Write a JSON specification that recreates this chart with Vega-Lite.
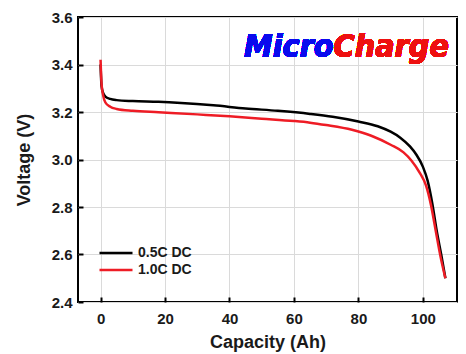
{
  "$schema": "https://vega.github.io/schema/vega-lite/v6.json",
  "width": 379,
  "height": 285,
  "autosize": {"type": "none"},
  "padding": {"left": 78, "top": 17, "right": 9, "bottom": 52},
  "background": "white",
  "config": {
    "view": {"stroke": "black", "strokeWidth": 2},
    "font": "Liberation Sans"
  },
  "data": {
    "values": [
      {"cap": 0, "v": 3.40, "series": "0.5C DC"},
      {"cap": 0.3, "v": 3.31, "series": "0.5C DC"},
      {"cap": 0.8, "v": 3.28, "series": "0.5C DC"},
      {"cap": 1.5, "v": 3.265, "series": "0.5C DC"},
      {"cap": 3, "v": 3.255, "series": "0.5C DC"},
      {"cap": 5, "v": 3.25, "series": "0.5C DC"},
      {"cap": 10, "v": 3.246, "series": "0.5C DC"},
      {"cap": 18, "v": 3.243, "series": "0.5C DC"},
      {"cap": 25, "v": 3.238, "series": "0.5C DC"},
      {"cap": 35, "v": 3.228, "series": "0.5C DC"},
      {"cap": 45, "v": 3.215, "series": "0.5C DC"},
      {"cap": 55, "v": 3.205, "series": "0.5C DC"},
      {"cap": 65, "v": 3.192, "series": "0.5C DC"},
      {"cap": 72, "v": 3.18, "series": "0.5C DC"},
      {"cap": 80, "v": 3.16, "series": "0.5C DC"},
      {"cap": 86, "v": 3.14, "series": "0.5C DC"},
      {"cap": 90, "v": 3.117, "series": "0.5C DC"},
      {"cap": 93, "v": 3.092, "series": "0.5C DC"},
      {"cap": 96, "v": 3.055, "series": "0.5C DC"},
      {"cap": 98, "v": 3.02, "series": "0.5C DC"},
      {"cap": 100, "v": 2.97, "series": "0.5C DC"},
      {"cap": 101.5, "v": 2.91, "series": "0.5C DC"},
      {"cap": 103, "v": 2.81, "series": "0.5C DC"},
      {"cap": 104.3, "v": 2.70, "series": "0.5C DC"},
      {"cap": 105.7, "v": 2.60, "series": "0.5C DC"},
      {"cap": 107, "v": 2.50, "series": "0.5C DC"},
      {"cap": 0, "v": 3.42, "series": "1.0C DC"},
      {"cap": 0.3, "v": 3.32, "series": "1.0C DC"},
      {"cap": 0.8, "v": 3.27, "series": "1.0C DC"},
      {"cap": 1.5, "v": 3.24, "series": "1.0C DC"},
      {"cap": 3, "v": 3.222, "series": "1.0C DC"},
      {"cap": 5, "v": 3.213, "series": "1.0C DC"},
      {"cap": 10, "v": 3.205, "series": "1.0C DC"},
      {"cap": 18, "v": 3.199, "series": "1.0C DC"},
      {"cap": 30, "v": 3.19, "series": "1.0C DC"},
      {"cap": 40, "v": 3.182, "series": "1.0C DC"},
      {"cap": 50, "v": 3.172, "series": "1.0C DC"},
      {"cap": 60, "v": 3.162, "series": "1.0C DC"},
      {"cap": 65, "v": 3.155, "series": "1.0C DC"},
      {"cap": 70, "v": 3.145, "series": "1.0C DC"},
      {"cap": 78, "v": 3.125, "series": "1.0C DC"},
      {"cap": 84, "v": 3.10, "series": "1.0C DC"},
      {"cap": 90, "v": 3.062, "series": "1.0C DC"},
      {"cap": 94, "v": 3.03, "series": "1.0C DC"},
      {"cap": 96.5, "v": 2.995, "series": "1.0C DC"},
      {"cap": 99, "v": 2.945, "series": "1.0C DC"},
      {"cap": 101, "v": 2.89, "series": "1.0C DC"},
      {"cap": 102.5, "v": 2.81, "series": "1.0C DC"},
      {"cap": 104, "v": 2.70, "series": "1.0C DC"},
      {"cap": 105.5, "v": 2.59, "series": "1.0C DC"},
      {"cap": 107, "v": 2.50, "series": "1.0C DC"}
    ]
  },
  "layer": [
    {
      "mark": {"type": "line", "strokeWidth": 2.5, "interpolate": "monotone"},
      "encoding": {
        "x": {
          "field": "cap", "type": "quantitative",
          "scale": {"domain": [-7, 110.6], "nice": false, "zero": false},
          "axis": {
            "title": "Capacity (Ah)",
            "values": [0, 10, 20, 30, 40, 50, 60, 70, 80, 90, 100, 110],
            "labelExpr": "datum.value % 20 == 0 ? datum.label : ''",
            "domain": false,
            "grid": true, "gridColor": "#dadada", "gridWidth": 1,
            "tickColor": "black", "tickWidth": 2,
            "tickSize": {"condition": {"test": "datum.value % 20 == 0", "value": -5}, "value": -3},
            "labelFont": "Liberation Sans", "labelFontWeight": "bold", "labelFontSize": 15, "labelColor": "#1a1a1a",
            "labelPadding": 14,
            "titleFont": "Liberation Sans", "titleFontWeight": "bold", "titleFontSize": 18, "titleColor": "#1a1a1a",
            "titlePadding": 7
          }
        },
        "y": {
          "field": "v", "type": "quantitative",
          "scale": {"domain": [2.4, 3.6], "nice": false, "zero": false},
          "axis": {
            "title": "Voltage (V)",
            "values": [2.4, 2.5, 2.6, 2.7, 2.8, 2.9, 3.0, 3.1, 3.2, 3.3, 3.4, 3.5, 3.6],
            "labelExpr": "round(datum.value * 10) % 2 == 0 ? format(datum.value, '.1f') : ''",
            "domain": false,
            "grid": true, "gridColor": "#dadada", "gridWidth": 1,
            "tickColor": "black", "tickWidth": 2,
            "tickSize": {"condition": {"test": "round(datum.value * 10) % 2 == 0", "value": -5}, "value": -3},
            "labelFont": "Liberation Sans", "labelFontWeight": "bold", "labelFontSize": 15, "labelColor": "#1a1a1a",
            "labelPadding": 11,
            "titleFont": "Liberation Sans", "titleFontWeight": "bold", "titleFontSize": 18, "titleColor": "#1a1a1a",
            "titlePadding": 18
          }
        },
        "color": {
          "field": "series", "type": "nominal",
          "scale": {"domain": ["0.5C DC", "1.0C DC"], "range": ["#000000", "#ee1c25"]},
          "legend": {
            "title": null,
            "orient": "none",
            "legendX": 31,
            "legendY": 229,
            "symbolType": "M-3,0H3",
            "symbolSize": 121,
            "symbolStrokeWidth": 2.5,
            "labelFont": "Liberation Sans", "labelFontWeight": "bold", "labelFontSize": 14, "labelColor": "#1a1a1a",
            "labelOffset": 15,
            "rowPadding": 3
          }
        }
      }
    },
    {
      "mark": {"type": "text", "text": "Micro", "align": "right", "baseline": "alphabetic", "font": "DejaVu Sans Condensed", "fontWeight": "bold", "fontStyle": "italic", "fontSize": 32, "color": "#0a0aee"},
      "encoding": {"x": {"datum": 72.3}, "y": {"datum": 3.433}}
    },
    {
      "mark": {"type": "text", "text": "Charge", "align": "left", "baseline": "alphabetic", "font": "DejaVu Sans Condensed", "fontWeight": "bold", "fontStyle": "italic", "fontSize": 32, "color": "#ee1010"},
      "encoding": {"x": {"datum": 72.3}, "y": {"datum": 3.433}}
    }
  ]
}
